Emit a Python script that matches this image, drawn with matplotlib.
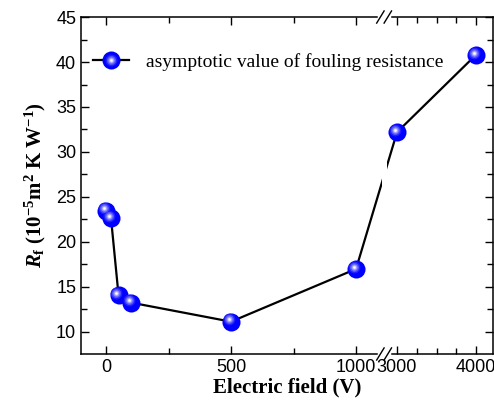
import numpy as np
import matplotlib
matplotlib.use('Agg')
import matplotlib.pyplot as plt
from matplotlib.ticker import FixedLocator
from matplotlib.transforms import ScaledTranslation

# data
field = [0, 20, 50, 100, 500, 1000, 3000, 4000]
rf = [23.48, 22.63, 14.11, 13.26, 11.14, 17.0, 32.2, 40.8]
xticks = [0, 500, 1000, 3000, 4000]
xminor = [250, 750, 3250, 3500, 3750]
legend_label = 'asymptotic value of fouling resistance'

plt.rcParams['font.family'] = 'Liberation Sans'
plt.rcParams['mathtext.fontset'] = 'custom'
plt.rcParams['mathtext.rm'] = 'Liberation Serif:bold'
plt.rcParams['mathtext.it'] = 'Liberation Serif:italic:bold'
plt.rcParams['mathtext.bf'] = 'Liberation Serif:bold'

# broken x axis: 0-1100 linear, short gap, then compressed 2850+
knots_x = [-1000, 1100, 2850, 5000]
knots_u = [-144, 381, 385.15, 555]
fwd = lambda x: np.interp(x, knots_x, knots_u)
inv = lambda u: np.interp(u, knots_u, knots_x)

fig = plt.figure(figsize=(4.94, 4.12), dpi=100)
ax = fig.add_axes([0.164, 0.1408, 0.834, 0.8179])
ax.set_xscale('function', functions=(fwd, inv))
ax.set_xlim(-100, 4215)
ax.set_ylim(7.55, 45)

line, = ax.plot(field, rf, color='black', lw=1.6, zorder=2)

# white band over the break
ax.axvspan(inv(381.5), inv(387), color='white', zorder=2.2, lw=0)

# sphere-like markers
off = ScaledTranslation(-0.022, 0.022, fig.dpi_scale_trans)
layers = [(13, '#0000ff', False), (8.5, '#2020ff', True), (6.5, '#5555ff', True),
          (4.5, '#9090ff', True), (2.8, '#d0d0ff', True), (1.5, 'white', True)]
handles = [line]
for ms, col, shift in layers:
    tr = ax.transData + off if shift else ax.transData
    h, = ax.plot(field, rf, ls='none', marker='o', ms=ms, mfc=col, mec='none',
                 transform=tr, zorder=3)
    handles.append(h)

ax.legend([tuple(handles)], [legend_label], loc='center left',
          bbox_to_anchor=(0.03, 0.866), frameon=False, borderpad=0,
          borderaxespad=0, handlelength=1.85, handletextpad=0.85,
          prop={'family': 'Liberation Serif', 'size': 14})

ax.xaxis.set_major_locator(FixedLocator(xticks))
ax.xaxis.set_minor_locator(FixedLocator(xminor))
ax.set_yticks(np.arange(10, 46, 5))
ax.set_yticks(np.arange(12.5, 45, 5), minor=True)
ax.tick_params(which='both', direction='in', top=True, right=True,
               labelsize=13, width=1)
ax.tick_params(which='major', length=6)
ax.tick_params(which='minor', length=4)
for s in ax.spines.values():
    s.set_linewidth(1.1)

# break marks on top and bottom spines
bx = (384.5 - 81) / 412
for yy in (0, 1):
    ax.plot([bx - 0.014, bx + 0.010], [yy, yy], color='white', lw=2.5,
            transform=ax.transAxes, clip_on=False, zorder=5)
    for dx in (-0.010, 0.008):
        ax.plot([bx + dx - 0.009, bx + dx + 0.009], [yy - 0.018, yy + 0.018],
                color='black', lw=1, transform=ax.transAxes, clip_on=False,
                zorder=6)

ax.set_xlabel('Electric field (V)', family='Liberation Serif',
              weight='bold', size=15, labelpad=1)
ax.set_ylabel(r'$R_\mathrm{f}$ (10$^{-5}$m$^2$ K W$^{-1}$)',
              family='Liberation Serif', weight='bold', size=15, labelpad=6)

fig.savefig('out.png', dpi=100)
